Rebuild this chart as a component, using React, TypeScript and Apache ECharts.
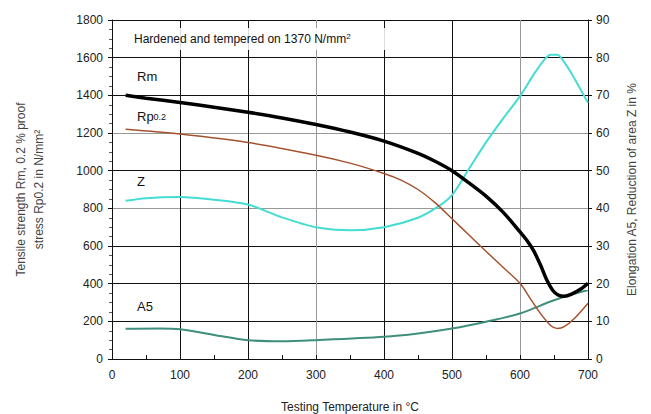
import React, { useEffect, useRef } from "react";
import * as echarts from "echarts";

const rmData: [number, number][] = [
  [20, 1400], [50, 1385], [100, 1362], [150, 1337], [200, 1310], [250, 1280], [300, 1245],
  [350, 1205], [400, 1157], [450, 1092], [475, 1050], [500, 1000], [525, 935], [550, 865],
  [575, 780], [600, 675], [610, 630], [620, 575], [630, 500], [640, 415], [648, 365],
  [656, 340], [665, 333], [675, 343], [690, 373], [700, 402],
];
const rpData: [number, number][] = [
  [20, 1220], [100, 1195], [200, 1150], [300, 1082], [350, 1040], [400, 985], [425, 950],
  [450, 900], [475, 830], [500, 745], [525, 658], [550, 572], [575, 487], [600, 402], [615, 322],
  [630, 242], [645, 178], [655, 162], [665, 172], [680, 215], [700, 296],
];
const zData: [number, number][] = [
  [20, 42], [50, 42.7], [100, 43], [150, 42.3], [200, 41], [250, 37.6], [300, 35], [350, 34.2],
  [400, 35], [450, 37.5], [480, 40.5], [500, 43.5], [525, 50.5], [550, 57.5], [575, 63.8],
  [600, 69.8], [620, 75.5], [635, 79.3], [645, 80.8], [655, 80.8], [665, 78.8], [680, 74.5], [700, 68],
];
const a5Data: [number, number][] = [
  [20, 8], [70, 8.1], [100, 7.9], [150, 6.4], [200, 5], [250, 4.7], [300, 5], [400, 5.9],
  [450, 6.8], [500, 8.1], [550, 9.9], [600, 12.1], [650, 15.6], [700, 18.3],
];

const FONT = "'Liberation Sans', Arial, sans-serif";

export default function App() {
  const ref = useRef<HTMLDivElement>(null);
  useEffect(() => {
    if (!ref.current) return;
    const chart = echarts.init(ref.current, undefined, { renderer: "svg" });
    const K = "#111";
    const G = "#999";
    const plain = (v: number) => String(v);
    chart.setOption({
      animation: false,
      backgroundColor: "#fff",
      textStyle: { fontFamily: FONT },
      grid: { left: 112, right: 63, top: 20, bottom: 55, outerBoundsMode: "none" },
      xAxis: {
        type: "value", min: 0, max: 700, interval: 100,
        name: "Testing Temperature in °C", nameLocation: "middle", nameGap: 42,
        nameTextStyle: { fontSize: 12, color: "#222", fontFamily: FONT },
        axisLine: { show: true, lineStyle: { color: K, width: 1 } },
        axisTick: { show: true, inside: true, length: 4, lineStyle: { color: K } },
        minorTick: { show: true, splitNumber: 2, length: 4, lineStyle: { color: K } },
        axisLabel: { fontSize: 12, color: "#222", margin: 10, fontFamily: FONT, formatter: plain },
        splitLine: { show: true, lineStyle: { color: [K, K, K, G, K, K, G, K], width: 1 } },
      },
      yAxis: [
        {
          type: "value", min: 0, max: 1800, interval: 200,
          name: "Tensile strength Rm, 0.2 % proof\nstress Rp0.2 in N/mm²",
          nameLocation: "middle", nameGap: 64,
          nameTextStyle: { fontSize: 12, color: "#444", lineHeight: 18, fontFamily: FONT },
          axisLine: { show: true, lineStyle: { color: K, width: 1 } },
          axisTick: { show: true, length: 4, lineStyle: { color: K } },
          minorTick: { show: true, splitNumber: 4, length: 3, lineStyle: { color: "#555" } },
          axisLabel: { fontSize: 12, color: "#222", margin: 9, fontFamily: FONT, formatter: plain },
          splitLine: { show: true, lineStyle: { color: [K, K, K, K, G, K, G, K, K, K], width: 1 } },
        },
        {
          type: "value", min: 0, max: 90, interval: 10, position: "right",
          name: "Elongation A5, Reduction of area Z in %",
          nameLocation: "middle", nameGap: 38,
          nameTextStyle: { fontSize: 12, color: "#444", fontFamily: FONT },
          axisLine: { show: true, lineStyle: { color: K, width: 1 } },
          axisTick: { show: true, length: 4, lineStyle: { color: K } },
          axisLabel: { fontSize: 12, color: "#222", margin: 8, fontFamily: FONT, formatter: plain },
          splitLine: { show: false },
        },
      ],
      graphic: [
        { type: "rect", shape: { x: 118, y: 28, width: 270, height: 22 }, style: { fill: "#fff", opacity: 0.85 }, z: 5 },
        {
          type: "text", x: 134, y: 32, z: 6,
          style: {
            text: "{a|Hardened and tempered on 1370 N/mm}{s|2}",
            rich: {
              a: { fontSize: 12, fill: "#111", fontFamily: FONT },
              s: { fontSize: 8, fill: "#111", fontFamily: FONT, verticalAlign: "top", padding: [0, 0, 6, 0] },
            },
          },
        },
        { type: "text", x: 137, y: 70, z: 6, style: { text: "Rm", fontSize: 13, fill: "#111", fontFamily: FONT } },
        {
          type: "text", x: 137, y: 110, z: 6,
          style: {
            text: "{a|Rp}{b|0.2}",
            rich: {
              a: { fontSize: 13, fill: "#111", fontFamily: FONT },
              b: { fontSize: 9, fill: "#111", fontFamily: FONT },
            },
          },
        },
        { type: "text", x: 137, y: 175, z: 6, style: { text: "Z", fontSize: 13, fill: "#111", fontFamily: FONT } },
        { type: "text", x: 137, y: 300, z: 6, style: { text: "A5", fontSize: 13, fill: "#111", fontFamily: FONT } },
      ],
      series: [
        {
          name: "A5", type: "line", yAxisIndex: 1, data: a5Data, smooth: 0.3, showSymbol: false,
          lineStyle: { color: "#3f8f7c", width: 2 }, z: 3,
        },
        {
          name: "Z", type: "line", yAxisIndex: 1, data: zData, smooth: 0.3, showSymbol: false,
          lineStyle: { color: "#45dcd2", width: 2 }, z: 3,
        },
        {
          name: "Rp0.2", type: "line", yAxisIndex: 0, data: rpData, smooth: 0.3, showSymbol: false,
          lineStyle: { color: "#a4522e", width: 1.5 }, z: 3,
        },
        {
          name: "Rm", type: "line", yAxisIndex: 0, data: rmData, smooth: 0.3, showSymbol: false,
          lineStyle: { color: "#000", width: 3.5 }, z: 4,
        },
      ],
    });
    return () => chart.dispose();
  }, []);
  return <div ref={ref} style={{ width: 651, height: 414, position: "fixed", left: 0, top: 0 }} />;
}
